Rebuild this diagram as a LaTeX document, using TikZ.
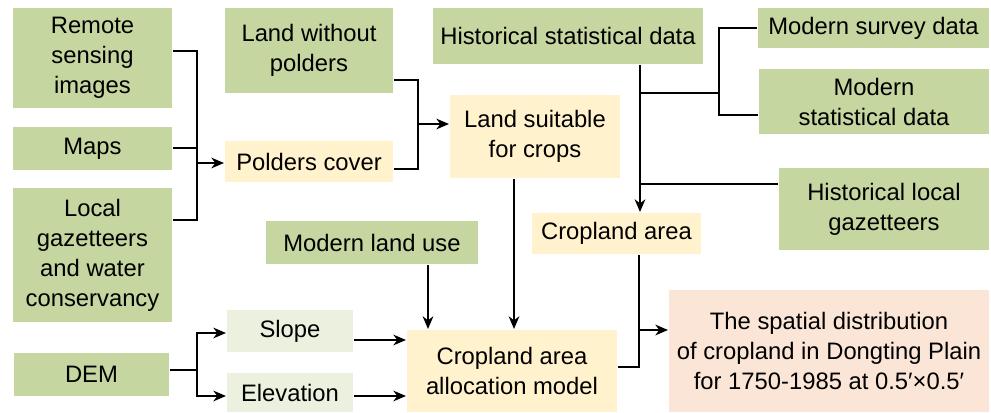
\documentclass[tikz,border=0pt]{standalone}
\usepackage{fontspec}
\setmainfont{Liberation Sans}
\usetikzlibrary{arrows.meta}

\definecolor{srcgreen}{RGB}{197,214,160}
\definecolor{midcream}{RGB}{255,242,204}
\definecolor{terrgreen}{RGB}{235,241,222}
\definecolor{outpeach}{RGB}{251,229,214}

\tikzset{every picture/.style={line width=1.5pt}}
\tikzset{
  srcbox/.style={fill=srcgreen, inner sep=2pt, align=center, font=\fontsize{17.85}{22.5}\selectfont},
  midbox/.style={srcbox, fill=midcream},
  terrbox/.style={srcbox, fill=terrgreen},
  outbox/.style={srcbox, fill=outpeach},
  link/.style={-{Stealth[length=9.5pt,width=8pt,inset=3pt]}}
}

\begin{document}
\begin{tikzpicture}[x=0.75pt,y=0.75pt,yscale=-1,xscale=1]
\useasboundingbox (0,0) rectangle (991,413);

% Text Node
\node [srcbox, minimum width=119.25pt, minimum height=75pt] (rs) at (92.5,58) {Remote\\sensing\\images};
% Text Node
\node [srcbox, minimum width=119.25pt, minimum height=32.25pt] (maps) at (92.5,148.5) {Maps};
% Text Node
\node [srcbox, minimum width=119.25pt, minimum height=100.5pt] (lg) at (92.5,255) {Local\\gazetteers\\and water\\conservancy};
% Text Node
\node [srcbox, minimum width=116.25pt, minimum height=32.25pt] (dem) at (91.5,374.5) {DEM};
% Text Node
\node [srcbox, minimum width=126pt, minimum height=63.75pt] (lwp) at (309,50.5) {Land without\\polders};
% Text Node
\node [midbox, minimum width=126pt, minimum height=30.75pt] (pc) at (309,161.5) {Polders cover};
% Text Node
\node [midbox, minimum width=127.5pt, minimum height=62.25pt] (ls) at (535,136.5) {Land suitable\\for crops};
% Text Node
\node [srcbox, minimum width=202.5pt, minimum height=42pt] (hsd) at (568,36) {Historical statistical data};
% Text Node
\node [srcbox, minimum width=173.25pt, minimum height=30pt] (msd) at (873.5,28) {Modern survey data};
% Text Node
\node [srcbox, minimum width=172.5pt, minimum height=48.75pt] (mst) at (874,101.5) {Modern\\statistical data};
% Text Node
\node [srcbox, minimum width=157.5pt, minimum height=61.5pt] (hlg) at (884,209) {Historical local\\gazetteers};
% Text Node
\node [midbox, minimum width=126.75pt, minimum height=30.75pt] (ca) at (616.5,233.5) {Cropland area};
% Text Node
\node [srcbox, minimum width=159pt, minimum height=32.25pt] (mlu) at (372,242.5) {Modern land use};
% Text Node
\node [terrbox, minimum width=94.5pt, minimum height=31.5pt] (slope) at (290,331) {Slope};
% Text Node
\node [terrbox, minimum width=94.5pt, minimum height=29.25pt] (elev) at (290,392.5) {Elevation};
% Text Node
\node [midbox, minimum width=157.5pt, minimum height=61.5pt] (model) at (512,371) {Cropland area\\allocation model};
% Text Node
\node [outbox, minimum width=240pt, minimum height=91.5pt] (dist) at (829,351) {The spatial distribution\\of cropland in Dongting Plain\\for 1750-1985 at 0.5′×0.5′};

% Joints
\coordinate (srcjoin) at (197,163);
\coordinate (landjoin) at (418,124);
\coordinate (statjoin) at (640,93);
\coordinate (modjoin) at (719,93);
\coordinate (demjoin) at (197,370);
\coordinate (outjoin) at (639,330);

% Connectors
\draw (rs.east |- 0,51) -| (srcjoin) |- (lg.east |- 0,220);
\draw (maps.east) -- (srcjoin |- maps.east);
\draw [link] (srcjoin) -- (srcjoin -| pc.west);

\draw (lwp.east |- 0,80) -| (landjoin) |- (pc.east |- 0,169);
\draw [link] (landjoin) -- (landjoin -| ls.west);

\draw [link] (statjoin |- hsd.south) -- (statjoin |- ca.north);
\draw (msd.west) -| (modjoin) |- (mst.west |- 0,115);
\draw (modjoin) -- (statjoin);
\draw (hlg.west |- 0,184) -- (statjoin |- 0,184);

\draw [link] (mlu.south -| 428,0) -- (model.north -| 428,0);
\draw [link] (ls.south -| 514,0) -- (model.north -| 514,0);
\draw [link] (slope.east |- 0,340) -- (model.west |- 0,340);
\draw [link] (elev.east |- 0,396) -- (model.west |- 0,396);

\draw (dem.east |- demjoin) -- (demjoin);
\draw [link] (demjoin) |- (slope.west |- 0,333);
\draw [link] (demjoin) |- (elev.west |- 0,396);

\draw (model.east |- 0,367) -| (outjoin |- ca.south);
\draw [link] (outjoin) -- (outjoin -| dist.west);

\end{tikzpicture}
\end{document}
